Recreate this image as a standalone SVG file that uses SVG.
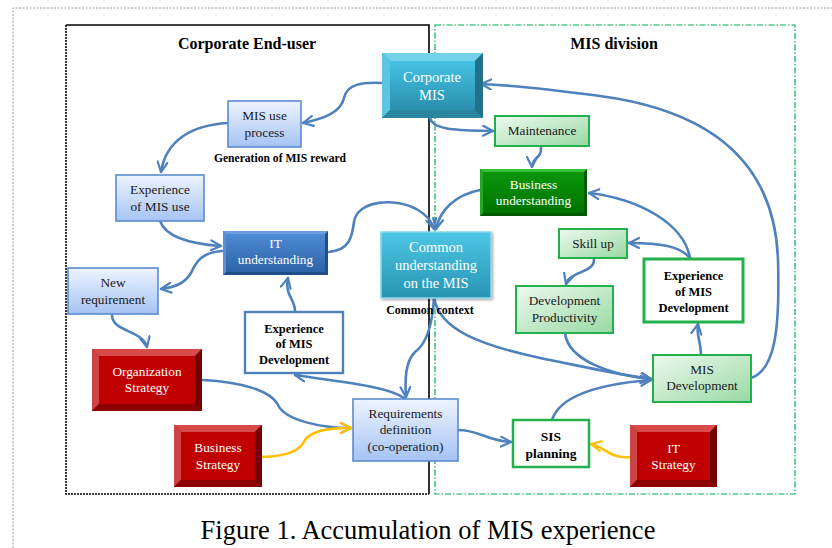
<svg xmlns="http://www.w3.org/2000/svg" width="832" height="548" viewBox="0 0 832 548">
<defs>
<style>
.t{font-size:13.3px;fill:#1a1a1a;text-anchor:middle}
.w{fill:#ffffff}
.b{font-weight:bold;font-size:12.5px;fill:#000}
.h{font-weight:bold;font-size:16px;fill:#000;text-anchor:middle}
.c{stroke:#4f81bd;stroke-width:2.6;fill:none;stroke-linecap:round;marker-end:url(#ab)}
.y{stroke:#ffc000;stroke-width:2.6;fill:none;stroke-linecap:round;marker-end:url(#ay)}
.lb{fill:url(#gLB);stroke:#5b8bd0;stroke-width:1.6}
.lg{fill:url(#gLG);stroke:#22b14c;stroke-width:2}
</style>
<linearGradient id="gLB" x1="0" y1="0" x2="0" y2="1"><stop offset="0" stop-color="#eef4ff"/><stop offset="1" stop-color="#a5c3f3"/></linearGradient>
<linearGradient id="gLG" x1="0" y1="0" x2="1" y2="1"><stop offset="0" stop-color="#eef9ef"/><stop offset="1" stop-color="#98d9a3"/></linearGradient>
<linearGradient id="gCy" x1="0" y1="0" x2="0" y2="1"><stop offset="0" stop-color="#44c2e3"/><stop offset="1" stop-color="#2a8fae"/></linearGradient>
<linearGradient id="gCu" x1="0" y1="0" x2="0" y2="1"><stop offset="0" stop-color="#4cc7e5"/><stop offset="1" stop-color="#2994b3"/></linearGradient>
<linearGradient id="gIT" x1="0" y1="0" x2="0" y2="1"><stop offset="0" stop-color="#4d8ad3"/><stop offset="1" stop-color="#2e63a8"/></linearGradient>
<linearGradient id="gBU" x1="0" y1="0" x2="0" y2="1"><stop offset="0" stop-color="#0c960c"/><stop offset="1" stop-color="#007300"/></linearGradient>
<marker id="ab" viewBox="0 0 12 12" refX="11" refY="6" markerWidth="12" markerHeight="12" markerUnits="userSpaceOnUse" orient="auto"><path d="M1,1 L11,6 L1,11" fill="none" stroke="#4f81bd" stroke-width="2.2" stroke-linecap="round" stroke-linejoin="round"/></marker>
<marker id="ay" viewBox="0 0 12 12" refX="11" refY="6" markerWidth="12" markerHeight="12" markerUnits="userSpaceOnUse" orient="auto"><path d="M1,1 L11,6 L1,11" fill="none" stroke="#ffc000" stroke-width="2.2" stroke-linecap="round" stroke-linejoin="round"/></marker>
<filter id="sh" x="-10%" y="-10%" width="130%" height="130%"><feDropShadow dx="1.5" dy="1.5" stdDeviation="1" flood-color="#000" flood-opacity="0.3"/></filter>
</defs>
<rect width="832" height="548" fill="#ffffff"/>

<g id="frames">
<path d="M13,548 L13,8 L832,8" fill="none" stroke="#9a9a9a" stroke-width="1" stroke-dasharray="2,1.5"/>
<path d="M66,25 L429,25 L429,494" fill="none" stroke="#000" stroke-width="1.6"/>
<path d="M66,25 L66,494 L429,494" fill="none" stroke="#000" stroke-width="1.6" stroke-dasharray="2,1"/>
<rect x="435" y="25" width="360" height="469" fill="none" stroke="#00b050" stroke-width="1.2" stroke-dasharray="6,2,1.5,2"/>
<text class="h" style="font-family:'Liberation Serif','Times New Roman',serif" x="247" y="49">Corporate End-user</text>
<text class="h" style="font-family:'Liberation Serif','Times New Roman',serif" x="614" y="49">MIS division</text>
</g>

<g id="connectors">
<path class="c" d="M382,83 C362,82 347,84 344,98 C341,113 322,119 303,123"/>
<path class="c" d="M228,123 C192,125 166,140 161,172"/>
<path class="c" d="M160,221 C166,238 192,244 221,246"/>
<path class="c" d="M222,251 C202,252 196,262 191,273 C185,283 176,287 161,289"/>
<path class="c" d="M112,315 C112,332 143,330 147,347"/>
<path class="c" d="M295,312 C296,300 284,295 288,278"/>
<path class="c" d="M329,252 C349,250 352,238 354,222 C357,200 396,197 418,210 C428,216 432,222 434,229"/>
<path class="c" d="M480,190 C455,195 440,210 436,229"/>
<path class="c" d="M430,118 C433,131 462,130 493,131"/>
<path class="c" d="M541,147 C542,159 532,157 532,167"/>
<path class="c" d="M751,378 C775,370 780,330 778,260 C775,170 720,112 600,96 C540,88 505,85 481,84"/>
<path class="c" d="M690,258 C684,224 640,199 589,193"/>
<path class="c" d="M690,258 C680,246 660,243 629,243"/>
<path class="c" d="M594,259 C595,273 570,271 566,284"/>
<path class="c" d="M701,355 C701,341 696,336 698,324"/>
<path class="c" d="M565,333 C568,360 610,375 651,379"/>
<path class="c" d="M434,298 C440,330 480,345 540,358 C590,368 620,375 651,379"/>
<path class="c" d="M552,420 C560,395 600,384 651,380"/>
<path class="c" d="M434,298 C432,330 425,345 415,352 C405,362 405,380 406,397"/>
<path class="c" d="M203,380 C240,382 270,390 278,405 C285,420 320,428 351,428"/>
<path class="y" d="M262,457 C290,456 300,450 305,440 C312,430 330,428 351,428"/>
<path class="c" d="M404,398 C388,386 340,382 295,375"/>
<path class="c" d="M458,430 C480,430 486,441 511,442"/>
<path class="y" d="M630,457 C610,459 605,447 591,444"/>
</g>

<g id="corporate-mis">
<rect x="382" y="53" width="101" height="65" fill="#2b8aa5"/>
<path d="M382,53 L483,53 L475,61 L390,61 Z" fill="#72d2ec"/>
<path d="M382,53 L390,61 L390,110 L382,118 Z" fill="#5cc5e1"/>
<path d="M483,53 L483,118 L475,110 L475,61 Z" fill="#22708a"/>
<path d="M382,118 L483,118 L475,110 L390,110 Z" fill="#2a85a0"/>
<rect x="390" y="61" width="85" height="49" fill="url(#gCy)"/>
<text class="t w" style="font-family:'Liberation Serif','Times New Roman',serif;font-size:14.5px" x="432" y="82">Corporate</text>
<text class="t w" style="font-family:'Liberation Serif','Times New Roman',serif;font-size:14.5px" x="432" y="100">MIS</text>
</g>

<g id="mis-use-process">
<rect class="lb" x="228" y="101" width="73" height="46"/>
<text class="t" style="font-family:'Liberation Serif','Times New Roman',serif" x="264.5" y="120">MIS use</text>
<text class="t" style="font-family:'Liberation Serif','Times New Roman',serif" x="264.5" y="137">process</text>
<text class="t" style="font-family:'Liberation Serif','Times New Roman',serif;font-weight:bold;font-size:11.6px;fill:#000" x="280" y="162">Generation of MIS reward</text>
</g>

<g id="experience-of-mis-use">
<rect class="lb" x="116" y="175" width="88" height="46"/>
<text class="t" style="font-family:'Liberation Serif','Times New Roman',serif" x="160" y="194">Experience</text>
<text class="t" style="font-family:'Liberation Serif','Times New Roman',serif" x="160" y="211">of MIS use</text>
</g>

<g id="it-understanding">
<rect x="223" y="231" width="105" height="44" fill="#1f4f8a"/>
<path d="M223,231 L328,231 L325,234 L226,234 Z" fill="#6d9fe0"/>
<path d="M223,231 L226,234 L226,272 L223,275 Z" fill="#5a8fd6"/>
<rect x="226" y="234" width="99" height="38" fill="url(#gIT)"/>
<text class="t w" style="font-family:'Liberation Serif','Times New Roman',serif" x="275.5" y="248">IT</text>
<text class="t w" style="font-family:'Liberation Serif','Times New Roman',serif" x="275.5" y="264">understanding</text>
</g>

<g id="new-requirement">
<rect class="lb" x="68" y="268" width="90" height="46"/>
<text class="t" style="font-family:'Liberation Serif','Times New Roman',serif" x="113" y="287">New</text>
<text class="t" style="font-family:'Liberation Serif','Times New Roman',serif" x="113" y="304">requirement</text>
</g>

<g id="experience-of-mis-development-left">
<rect x="245" y="312" width="98" height="61" fill="#ffffff" stroke="#4f81bd" stroke-width="2.4"/>
<text class="t b" style="font-family:'Liberation Serif','Times New Roman',serif" x="294" y="333">Experience</text>
<text class="t b" style="font-family:'Liberation Serif','Times New Roman',serif" x="294" y="348">of MIS</text>
<text class="t b" style="font-family:'Liberation Serif','Times New Roman',serif" x="294" y="364">Development</text>
</g>

<g id="organization-strategy">
<rect x="92" y="349" width="110" height="62" fill="#8a0000"/>
<path d="M92,349 L202,349 L195,356 L99,356 Z" fill="#d64a4a"/>
<path d="M92,349 L99,356 L99,404 L92,411 Z" fill="#cc4444"/>
<path d="M202,349 L202,411 L195,404 L195,356 Z" fill="#720000"/>
<path d="M92,411 L202,411 L195,404 L99,404 Z" fill="#8e0000"/>
<rect x="99" y="356" width="96" height="48" fill="#c00000"/>
<text class="t w" style="font-family:'Liberation Serif','Times New Roman',serif" x="147" y="376">Organization</text>
<text class="t w" style="font-family:'Liberation Serif','Times New Roman',serif" x="147" y="392">Strategy</text>
</g>

<g id="business-strategy">
<rect x="174" y="425" width="88" height="62" fill="#8a0000"/>
<path d="M174,425 L262,425 L255,432 L181,432 Z" fill="#d64a4a"/>
<path d="M174,425 L181,432 L181,480 L174,487 Z" fill="#cc4444"/>
<path d="M262,425 L262,487 L255,480 L255,432 Z" fill="#720000"/>
<path d="M174,487 L262,487 L255,480 L181,480 Z" fill="#8e0000"/>
<rect x="181" y="432" width="74" height="48" fill="#c00000"/>
<text class="t w" style="font-family:'Liberation Serif','Times New Roman',serif" x="218" y="452">Business</text>
<text class="t w" style="font-family:'Liberation Serif','Times New Roman',serif" x="218" y="469">Strategy</text>
</g>

<g id="requirements-definition">
<rect class="lb" x="353" y="399" width="105" height="62"/>
<text class="t" style="font-family:'Liberation Serif','Times New Roman',serif" x="405.5" y="418">Requirements</text>
<text class="t" style="font-family:'Liberation Serif','Times New Roman',serif" x="405.5" y="434">definition</text>
<text class="t" style="font-family:'Liberation Serif','Times New Roman',serif" x="405.5" y="451">(co-operation)</text>
</g>

<g id="common-understanding">
<rect x="381" y="232" width="110" height="66" fill="url(#gCu)" stroke="#86d9ee" stroke-width="1.5" filter="url(#sh)"/>
<text class="t w" style="font-family:'Liberation Serif','Times New Roman',serif;font-size:14.5px" x="436" y="252">Common</text>
<text class="t w" style="font-family:'Liberation Serif','Times New Roman',serif;font-size:14.5px" x="436" y="270">understanding</text>
<text class="t w" style="font-family:'Liberation Serif','Times New Roman',serif;font-size:14.5px" x="436" y="288">on the MIS</text>
<text class="t" style="font-family:'Liberation Serif','Times New Roman',serif;font-weight:bold;font-size:12px;fill:#000" x="430" y="314">Common context</text>
</g>

<g id="maintenance">
<rect class="lg" x="495" y="116" width="94" height="30"/>
<text class="t" style="font-family:'Liberation Serif','Times New Roman',serif" x="542" y="135">Maintenance</text>
</g>

<g id="business-understanding">
<rect x="480" y="169" width="107" height="47" fill="#005a00"/>
<path d="M480,169 L587,169 L584,172 L483,172 Z" fill="#35c035"/>
<path d="M480,169 L483,172 L483,213 L480,216 Z" fill="#22a822"/>
<rect x="483" y="172" width="101" height="41" fill="url(#gBU)"/>
<text class="t w" style="font-family:'Liberation Serif','Times New Roman',serif" x="533.5" y="189">Business</text>
<text class="t w" style="font-family:'Liberation Serif','Times New Roman',serif" x="533.5" y="205">understanding</text>
</g>

<g id="skill-up">
<rect class="lg" x="559" y="229" width="68" height="29"/>
<text class="t" style="font-family:'Liberation Serif','Times New Roman',serif" x="593" y="248">Skill up</text>
</g>

<g id="experience-of-mis-development-right">
<rect x="644" y="259" width="99" height="63" fill="#ffffff" stroke="#22b14c" stroke-width="3"/>
<text class="t b" style="font-family:'Liberation Serif','Times New Roman',serif" x="693.5" y="280">Experience</text>
<text class="t b" style="font-family:'Liberation Serif','Times New Roman',serif" x="693.5" y="296">of MIS</text>
<text class="t b" style="font-family:'Liberation Serif','Times New Roman',serif" x="693.5" y="312">Development</text>
</g>

<g id="development-productivity">
<rect class="lg" x="516" y="286" width="97" height="47"/>
<text class="t" style="font-family:'Liberation Serif','Times New Roman',serif" x="564.5" y="305">Development</text>
<text class="t" style="font-family:'Liberation Serif','Times New Roman',serif" x="564.5" y="322">Productivity</text>
</g>

<g id="mis-development">
<rect class="lg" x="653" y="355" width="98" height="47"/>
<text class="t" style="font-family:'Liberation Serif','Times New Roman',serif" x="702" y="374">MIS</text>
<text class="t" style="font-family:'Liberation Serif','Times New Roman',serif" x="702" y="390">Development</text>
</g>

<g id="sis-planning">
<rect x="513" y="420" width="76" height="47" fill="#ffffff" stroke="#22b14c" stroke-width="2.5"/>
<text class="t b" style="font-family:'Liberation Serif','Times New Roman',serif;font-size:13.5px" x="551" y="441">SIS</text>
<text class="t b" style="font-family:'Liberation Serif','Times New Roman',serif;font-size:13.5px" x="551" y="458">planning</text>
</g>

<g id="it-strategy">
<rect x="630" y="425" width="87" height="62" fill="#8a0000"/>
<path d="M630,425 L717,425 L710,432 L637,432 Z" fill="#d64a4a"/>
<path d="M630,425 L637,432 L637,480 L630,487 Z" fill="#cc4444"/>
<path d="M717,425 L717,487 L710,480 L710,432 Z" fill="#720000"/>
<path d="M630,487 L717,487 L710,480 L637,480 Z" fill="#8e0000"/>
<rect x="637" y="432" width="73" height="48" fill="#c00000"/>
<text class="t w" style="font-family:'Liberation Serif','Times New Roman',serif" x="673.5" y="453">IT</text>
<text class="t w" style="font-family:'Liberation Serif','Times New Roman',serif" x="673.5" y="469">Strategy</text>
</g>

<text x="428" y="539" style="font-family:'Liberation Serif','Times New Roman',serif;font-size:26.5px;fill:#000;text-anchor:middle">Figure 1. Accumulation of MIS experience</text>
</svg>
